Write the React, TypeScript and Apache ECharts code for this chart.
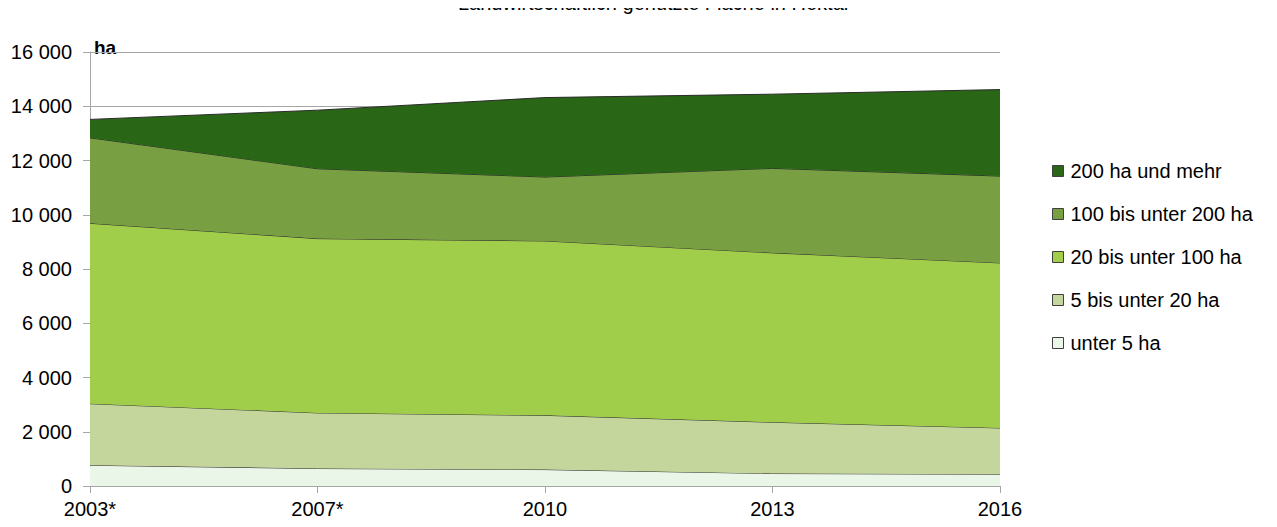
import React, { useEffect, useRef } from "react";
import * as echarts from "echarts";

const years = ["2003*", "2007*", "2010", "2013", "2016"];
const seriesNames = [
  "unter 5 ha",
  "5 bis unter 20 ha",
  "20 bis unter 100 ha",
  "100 bis unter 200 ha",
  "200 ha und mehr",
];
const under5 = [765, 645, 605, 460, 435];
const from5to20 = [2270, 2050, 2000, 1890, 1705];
const from20to100 = [6650, 6425, 6430, 6245, 6085];
const from100to200 = [3150, 2575, 2355, 3115, 3200];
const over200 = [680, 2160, 2930, 2735, 3190];
const colors = ["#eaf6e8", "#c5d69d", "#a0cd4a", "#799f43", "#296616"];
const yTicks = [0, 2000, 4000, 6000, 8000, 10000, 12000, 14000, 16000];

export default function App() {
  const ref = useRef<HTMLDivElement>(null);
  useEffect(() => {
    if (!ref.current) return;
    const chart = echarts.init(ref.current, null, { renderer: "svg" });
    const data = [under5, from5to20, from20to100, from100to200, over200];
    const font = "'Liberation Sans', Arial, sans-serif";
    chart.setOption({
      animation: false,
      textStyle: { fontFamily: font },
      graphic: [
        {
          type: "text",
          left: 458,
          top: -7,
          style: {
            text: "Landwirtschaftlich genutzte Fläche in Hektar ¹",
            fontSize: 20,
            fontFamily: font,
            fill: "#000",
          },
        },
        {
          type: "text",
          left: 94,
          top: 38,
          style: { text: "ha", fontSize: 19, fontWeight: "bold", fontFamily: font, fill: "#000" },
        },
      ],
      legend: {
        orient: "vertical",
        left: 1047,
        top: 156,
        itemGap: 23,
        itemWidth: 11,
        itemHeight: 11,
        icon: "rect",
        data: seriesNames.slice().reverse().map((n) => ({
          name: n,
          itemStyle: { borderColor: "#404040", borderWidth: 1 },
        })),
        textStyle: { fontSize: 20, color: "#000", fontFamily: font, padding: [0, 0, 0, 2] },
      },
      grid: { left: 90, right: 277, top: 52, bottom: 41 },
      xAxis: {
        type: "category",
        data: years,
        boundaryGap: false,
        axisLine: { lineStyle: { color: "#a6a6a6", width: 1 } },
        axisTick: { show: true, alignWithLabel: true, length: 7, lineStyle: { color: "#a6a6a6" } },
        axisLabel: { color: "#000", fontSize: 20, margin: 13, fontFamily: font },
        splitLine: { show: false },
      },
      yAxis: {
        type: "value",
        min: 0,
        max: 16000,
        interval: 2000,
        axisLine: { show: true, lineStyle: { color: "#a6a6a6" } },
        axisTick: { show: true, length: 7, lineStyle: { color: "#a6a6a6" } },
        axisLabel: {
          color: "#000",
          fontSize: 20,
          margin: 18,
          fontFamily: font,
          formatter: (v: number) =>
            yTicks.includes(v) ? String(v).replace(/\B(?=(\d{3})+(?!\d))/g, " ") : "",
        },
        splitLine: {
          show: true,
          lineStyle: { color: "#a6a6a6" },
          showMinLine: false,
        },
      },
      series: seriesNames.map((name, i) => ({
        name,
        type: "line",
        stack: "total",
        data: data[i],
        symbol: "none",
        lineStyle: { color: "#2b2b2b", width: 1 },
        itemStyle: { color: colors[i] },
        areaStyle: { color: colors[i], opacity: 1 },
        z: 2 + i,
      })),
    });
    return () => chart.dispose();
  }, []);
  return <div ref={ref} style={{ width: 1277, height: 527, margin: -8 }} />;
}
